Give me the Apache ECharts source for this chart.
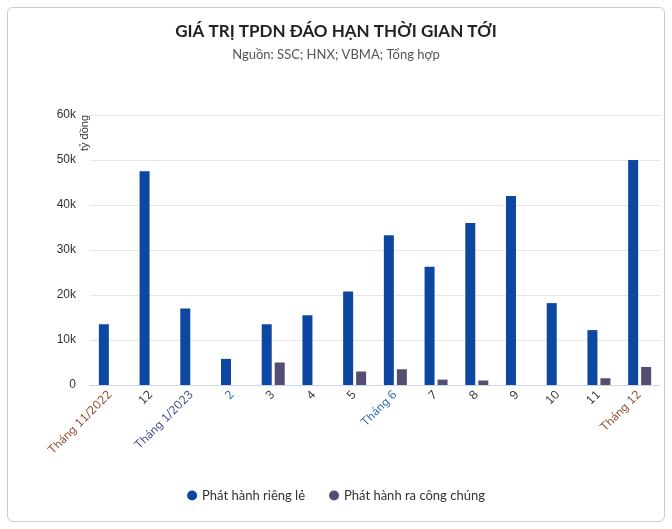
<!DOCTYPE html><html><head><meta charset="utf-8"><script src="https://cdn.jsdelivr.net/npm/echarts@6/dist/echarts.min.js"></script>
<style>body{margin:0;background:#fff}#box{position:absolute;left:7px;top:7px;width:656px;height:513px;border:1px solid #ccc;border-radius:6px}#c{position:absolute;left:0;top:0;width:672px;height:529px}</style></head><body><div id="box"></div><div id="c"></div><script>
const categories=["Tháng 11/2022","12","Tháng 1/2023","2","3","4","5","Tháng 6","7","8","9","10","11","Tháng 12"];
const labelColors=["#8a4a2a","#333333","#3a4a8a","#2a6aa8","#333333","#333333","#333333","#2a6aa8","#333333","#333333","#333333","#333333","#333333","#8a4a2a"];
const privateVals=[13500,47500,17000,5800,13500,15500,20800,33300,26300,36000,42000,18200,12200,50000];
const publicVals=[0,0,0,0,5000,0,3000,3500,1200,1000,0,0,1500,4000];
const rich={};labelColors.forEach((c,i)=>rich['c'+i]={color:c,fontSize:12,fontFamily:'Nunito, Lato, sans-serif'});
const ch=echarts.init(document.getElementById('c'));
ch.setOption({
title:{text:'GIÁ TRỊ TPDN ĐÁO HẠN THỜI GIAN TỚI',subtext:'Nguồn: SSC; HNX; VBMA; Tổng hợp',left:'center',top:18,itemGap:8,
textStyle:{fontSize:17,fontWeight:'bold',color:'#222',fontFamily:'Lato, sans-serif'},subtextStyle:{fontSize:13,color:'#555',fontFamily:'Lato, sans-serif'}},
legend:{bottom:22,icon:'circle',itemWidth:10,itemHeight:10,itemGap:24,textStyle:{fontSize:13,color:'#333',fontFamily:'Lato, sans-serif'}},
grid:{left:90,right:12,top:115,bottom:144},
xAxis:{type:'category',data:categories,axisTick:{show:false},axisLine:{lineStyle:{color:'#ccd6eb'}},
axisLabel:{rotate:45,interval:0,formatter:(v,i)=>'{c'+i+'|'+v+'}',rich:rich}},
yAxis:{type:'value',min:0,max:60000,interval:10000,name:'tỷ đồng',nameLocation:'end',nameRotate:90,nameGap:0,
nameTextStyle:{color:'#333',fontSize:11,padding:[0,0,0,0],align:'right',verticalAlign:'bottom'},
axisLabel:{formatter:v=>v===0?'0':(v/1000)+'k',color:'#333',fontSize:12,margin:14},splitLine:{lineStyle:{color:'#e6e6e6'}}},
series:[{name:'Phát hành riêng lẻ',type:'bar',data:privateVals,itemStyle:{color:'#0d47a1'},barWidth:10,barGap:'30%'},
{name:'Phát hành ra công chúng',type:'bar',data:publicVals,itemStyle:{color:'#544f72'},barWidth:10}]
});
</script></body></html>
